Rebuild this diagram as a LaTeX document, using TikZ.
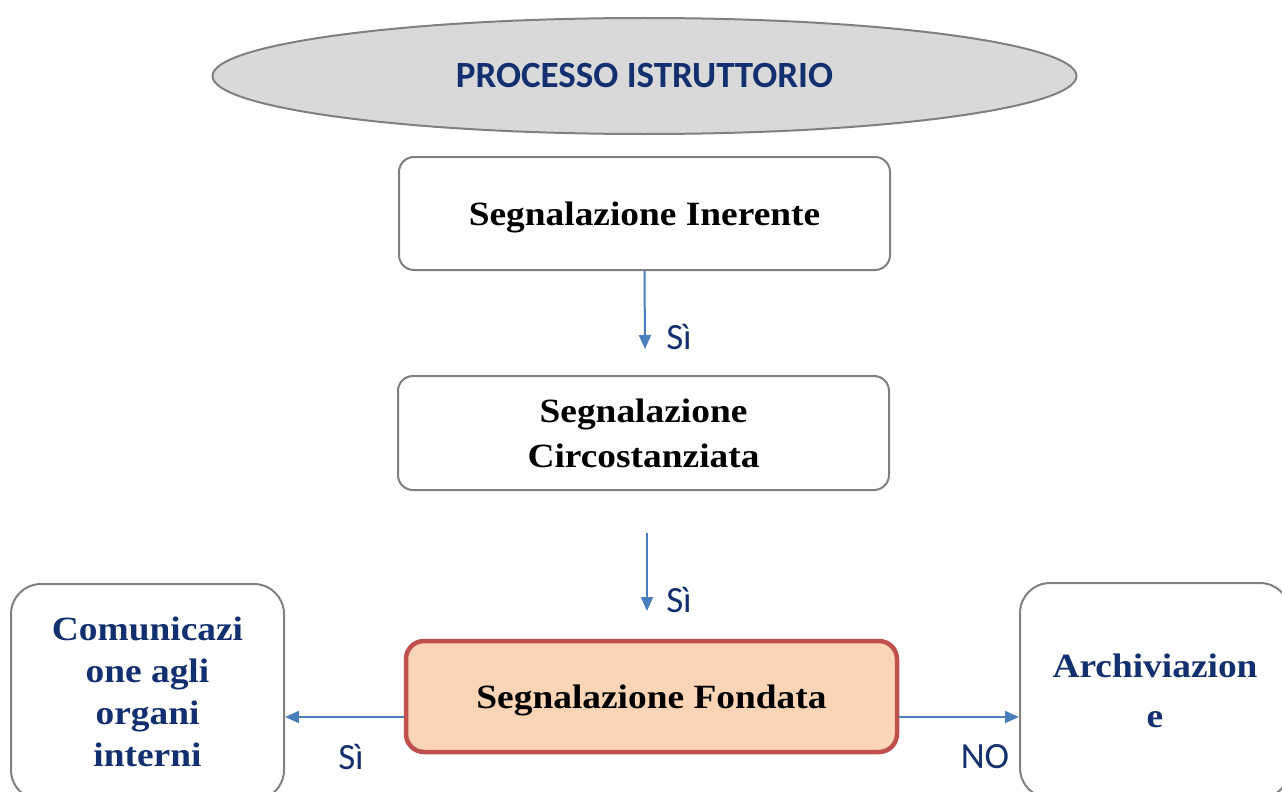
\documentclass[tikz,border=0pt]{standalone}
\usepackage{fontspec}
\setmainfont{Liberation Serif}
\newfontfamily\boxfont[FakeStretch=1.1]{Liberation Serif}
\newfontfamily\calib{Carlito}
\usetikzlibrary{arrows.meta,shapes.geometric,calc}
\definecolor{dblue}{HTML}{12306F}
\definecolor{lblue}{HTML}{4A7EBB}
\definecolor{gstroke}{HTML}{808080}
\definecolor{gfill}{HTML}{D9D9D9}
\definecolor{peach}{HTML}{FBD5B5}
\definecolor{redb}{HTML}{C0504D}
\begin{document}
\begin{tikzpicture}[x=1pt,y=-1pt,
  box/.style={draw=gstroke,line width=2pt,rounded corners=15pt,fill=white,align=center,
    font=\boxfont\fontsize{34}{45}\selectfont\bfseries,inner sep=0pt,text depth=0pt},
  sidebox/.style={box,rounded corners=30pt,text=dblue,font=\boxfont\fontsize{34}{42}\selectfont\bfseries},
  arr/.style={draw=lblue,line width=2pt,-{Triangle[length=14pt,width=12pt]}},
  lbl/.style={text=dblue,font=\calib\fontsize{37}{40}\selectfont,inner sep=0pt}]
\useasboundingbox (0,0) rectangle (1282,792);
\node[ellipse,draw=gstroke,fill=gfill,line width=2pt,minimum width=864pt,minimum height=116pt,
  text=dblue,font=\calib\fontsize{37}{40}\selectfont\bfseries] (title) at (644.5,76) {PROCESSO ISTRUTTORIO};
\node[box,minimum width=491pt,minimum height=113pt] (inerente) at (644.5,213.5) {Segnalazione Inerente};
\node[box,minimum width=491pt,minimum height=114pt] (circ) at (643.5,433) {Segnalazione\\Circostanziata};
\node[box,draw=redb,fill=peach,line width=4.5pt,rounded corners=18pt,minimum width=491pt,minimum height=111pt] (fond) at (651.5,696.5) {Segnalazione Fondata};
\node[sidebox,minimum width=273pt,minimum height=216pt] (comm) at (147.5,692) {Comunicazi\\one agli\\organi\\interni};
\node[sidebox,font=\boxfont\fontsize{34}{50}\selectfont\bfseries,minimum width=270pt,minimum height=215pt] (arch) at (1155,690.5) {Archiviazion\\e};
\coordinate (c2top) at (647,533);
\coordinate (c2end) at (647,611);
\coordinate (c1end) at (645,349);
\draw[arr] (inerente.south) -- (c1end);
\draw[arr] (c2top) -- (c2end);
\draw[arr] ([yshift=-20.5pt]fond.west) -- ([yshift=-25pt]comm.east);
\draw[arr] ([yshift=-20.5pt]fond.east) -- ([yshift=-26.5pt]arch.west);
\node[lbl] (l1) at (679,337) {Sì};
\node[lbl] (l2) at (679,600) {Sì};
\node[lbl] (l3) at (351,757) {Sì};
\node[lbl] (l4) at (985,757) {NO};
\end{tikzpicture}
\end{document}
